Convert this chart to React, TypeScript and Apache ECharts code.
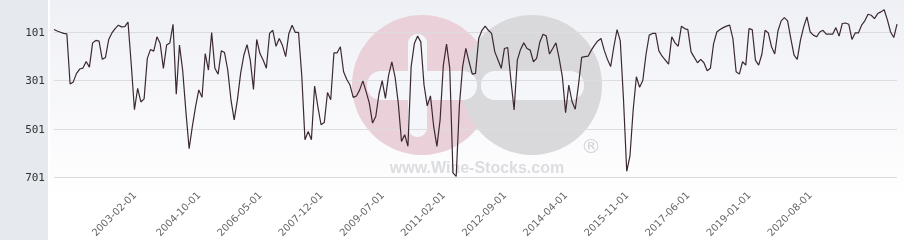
import React, { useEffect, useRef } from "react";
import * as echarts from "echarts";

const startYear = 2001;
const monthCount = 263;

const rankValues: number[] = [
  90, 96, 101, 106, 108, 315, 306, 271, 253, 249, 222, 245, 145, 135, 138, 213, 205, 131, 104, 86,
  72, 79, 78, 59, 232, 421, 333, 389, 376, 209, 172, 179, 120, 148, 250, 154, 145, 68, 357, 154,
  260, 430, 582, 490, 408, 339, 370, 189, 257, 102, 250, 274, 178, 185, 257, 380, 463, 380, 271, 196,
  152, 216, 337, 131, 189, 216, 250, 106, 93, 159, 127, 155, 202, 106, 72, 102, 102, 280, 545, 511,
  545, 323, 408, 483, 474, 350, 380, 186, 186, 161, 264, 296, 319, 370, 364, 339, 302, 346, 394, 476,
  449, 356, 301, 374, 278, 223, 285, 394, 552, 524, 572, 243, 148, 117, 141, 319, 405, 364, 490, 572,
  463, 237, 150, 250, 682, 696, 401, 243, 168, 223, 274, 271, 127, 93, 76, 93, 106, 182, 216, 250,
  168, 164, 298, 422, 216, 172, 145, 168, 175, 223, 209, 141, 109, 117, 191, 168, 145, 209, 285, 433,
  319, 387, 419, 319, 205, 202, 200, 175, 154, 137, 127, 175, 213, 243, 161, 90, 137, 380, 675, 613,
  422, 285, 328, 300, 192, 113, 106, 106, 178, 200, 216, 233, 120, 145, 159, 76, 86, 90, 182, 205,
  227, 213, 227, 260, 250, 148, 100, 90, 82, 76, 72, 127, 264, 274, 223, 237, 86, 90, 216, 237,
  192, 93, 104, 161, 191, 96, 54, 41, 54, 127, 196, 213, 134, 79, 38, 100, 113, 120, 100, 93,
  109, 109, 109, 82, 117, 65, 63, 68, 131, 104, 104, 72, 54, 27, 31, 45, 24, 17, 8, 49,
  100, 123, 68,
];

const xTickLabels: string[] = [
  "2003-02-01", "2004-10-01", "2006-05-01", "2007-12-01", "2009-07-01", "2011-02-01",
  "2012-09-01", "2014-04-01", "2015-11-01", "2017-06-01", "2019-01-01", "2020-08-01",
];

const yTickLabels: number[] = [101, 301, 501, 701];

const dates: string[] = [];
for (let i = 0; i < monthCount; i++) {
  const y = startYear + Math.floor(i / 12);
  const m = (i % 12) + 1;
  dates.push(`${y}-${m < 10 ? "0" + m : m}-01`);
}

export default function App() {
  const ref = useRef<HTMLDivElement>(null);
  useEffect(() => {
    if (!ref.current) return;
    const chart = echarts.init(ref.current, undefined, { renderer: "svg" });
    const holeColor = "#f5f6f9";
    chart.setOption({
      animation: false,
      grid: { left: 54, right: 7, top: 8, bottom: 52, containLabel: false },
      graphic: [
        { type: "rect", z: -20, silent: true, shape: { x: 0, y: 0, width: 48, height: 240 }, style: { fill: "#e6e9ed" } },
        { type: "rect", z: -20, silent: true, shape: { x: 48, y: 0, width: 2, height: 240 }, style: { fill: "#ffffff" } },
        {
          type: "rect", z: -20, silent: true,
          shape: { x: 50, y: 0, width: 854, height: 240 },
          style: {
            fill: new echarts.graphic.LinearGradient(0, 0, 0, 1, [
              { offset: 0, color: "#eff0f5" },
              { offset: 0.83, color: "#ffffff" },
              { offset: 1, color: "#ffffff" },
            ]),
          },
        },
        { type: "circle", z: -10, silent: true, shape: { cx: 422, cy: 85, r: 70 }, style: { fill: "#ead0d8" } },
        { type: "circle", z: -9, silent: true, shape: { cx: 532, cy: 85, r: 70 }, style: { fill: "#d9d9db" } },
        { type: "rect", z: -8, silent: true, shape: { x: 367, y: 71, width: 110, height: 29, r: 14 }, style: { fill: holeColor } },
        { type: "rect", z: -8, silent: true, shape: { x: 408, y: 34, width: 19, height: 103, r: 9 }, style: { fill: holeColor } },
        { type: "rect", z: -8, silent: true, shape: { x: 481, y: 71, width: 103, height: 29, r: 14 }, style: { fill: holeColor } },
        {
          type: "text", z: -7, silent: true, x: 477, y: 167,
          style: { text: "www.Wine-Stocks.com", fill: "#dcdde0", font: "bold 16px 'Liberation Sans', Arial, sans-serif", textAlign: "center", textVerticalAlign: "middle" },
        },
        {
          type: "text", z: -7, silent: true, x: 591, y: 146,
          style: { text: "®", fill: "#d6d6d9", font: "20px 'DejaVu Sans', sans-serif", textAlign: "center", textVerticalAlign: "middle" },
        },
      ],
      xAxis: {
        type: "category",
        data: dates,
        boundaryGap: false,
        axisLine: { show: false },
        axisTick: { show: false },
        splitLine: { show: false },
        axisLabel: {
          rotate: 45,
          interval: (_idx: number, val: string) => xTickLabels.includes(val),
          color: "#666666",
          fontSize: 10,
          fontFamily: "DejaVu Sans",
          margin: 6,
        },
      },
      yAxis: {
        type: "value",
        inverse: true,
        min: 1,
        max: 741,
        interval: 100,
        axisLine: { show: false },
        axisTick: { show: false },
        splitLine: { lineStyle: { color: ["rgba(0,0,0,0)", "#dcdcdc"], width: 1 } },
        axisLabel: {
          formatter: (v: number) => (yTickLabels.includes(v) ? String(v) : ""),
          color: "#333333",
          fontFamily: "DejaVu Sans Mono",
          fontSize: 11,
          margin: 9,
        },
      },
      series: [
        {
          type: "line",
          data: rankValues,
          symbol: "none",
          lineStyle: { color: "#3b2932", width: 1.2 },
        },
      ],
    });
    return () => chart.dispose();
  }, []);
  return <div ref={ref} style={{ position: "fixed", left: 0, top: 0, width: 904, height: 240 }} />;
}
